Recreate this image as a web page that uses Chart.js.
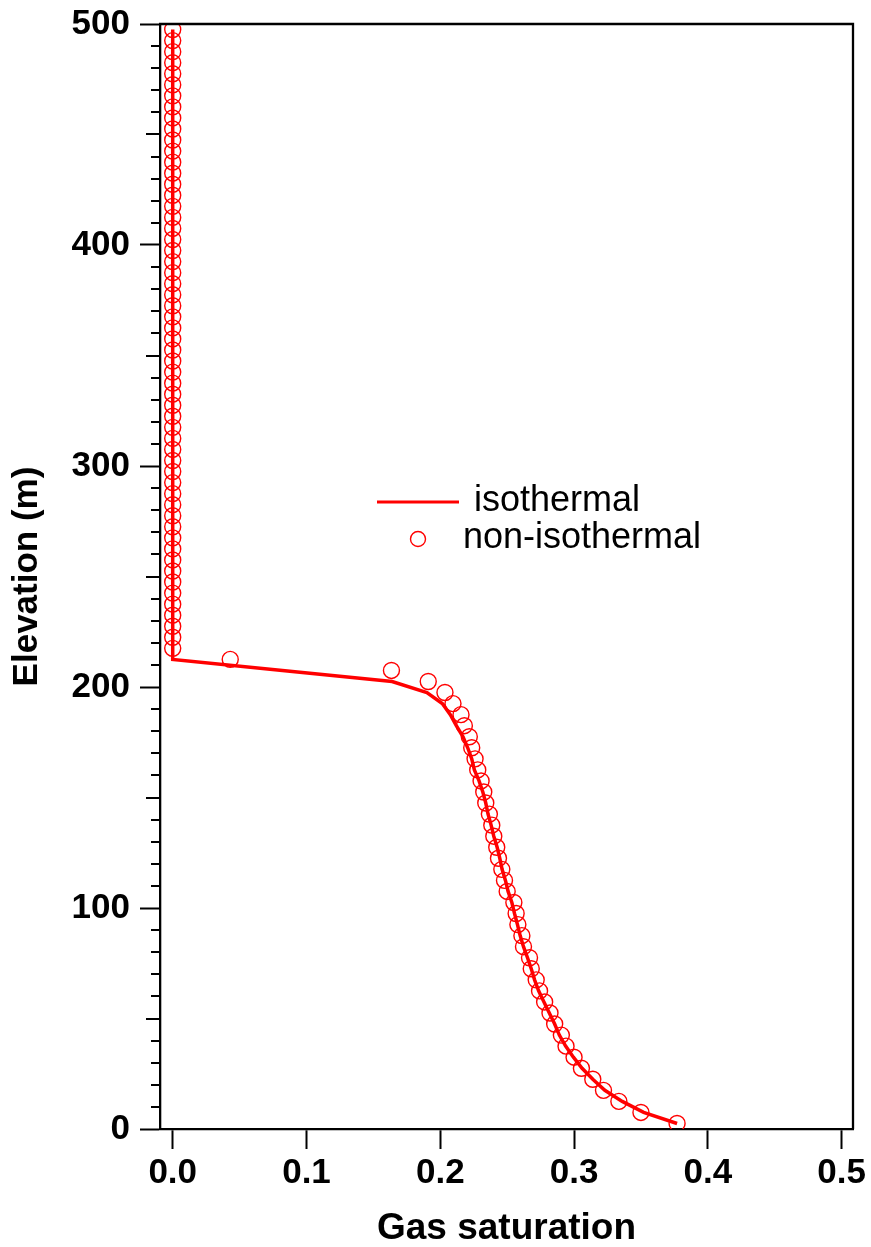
<!DOCTYPE html>
<html>
<head>
<meta charset="utf-8">
<script src="https://cdn.jsdelivr.net/npm/chart.js@4.4.1/dist/chart.umd.min.js"></script>
<style>
    body { margin: 0; background: #fff; }
    canvas { display: block; }
</style>
</head>
<body>
<canvas id="chart" width="871" height="1247"></canvas>
<script>
// cell centre elevations (m), bottom to top
var elevation = [
    2.5, 7.5, 12.5, 17.5, 22.5, 27.5, 32.5, 37.5, 42.5, 47.5,
    52.5, 57.5, 62.5, 67.5, 72.5, 77.5, 82.5, 87.5, 92.5, 97.5,
    102.5, 107.5, 112.5, 117.5, 122.5, 127.5, 132.5, 137.5, 142.5, 147.5,
    152.5, 157.5, 162.5, 167.5, 172.5, 177.5, 182.5, 187.5, 192.5, 197.5,
    202.5, 207.5, 212.5, 217.5, 222.5, 227.5, 232.5, 237.5, 242.5, 247.5,
    252.5, 257.5, 262.5, 267.5, 272.5, 277.5, 282.5, 287.5, 292.5, 297.5,
    302.5, 307.5, 312.5, 317.5, 322.5, 327.5, 332.5, 337.5, 342.5, 347.5,
    352.5, 357.5, 362.5, 367.5, 372.5, 377.5, 382.5, 387.5, 392.5, 397.5,
    402.5, 407.5, 412.5, 417.5, 422.5, 427.5, 432.5, 437.5, 442.5, 447.5,
    452.5, 457.5, 462.5, 467.5, 472.5, 477.5, 482.5, 487.5, 492.5, 497.5
];

var satIsothermal = [
    0.377, 0.352, 0.336, 0.323, 0.314, 0.306, 0.2995, 0.2937, 0.289, 0.2855,
    0.2815, 0.2775, 0.2735, 0.2705, 0.268, 0.2652, 0.2622, 0.2597, 0.2577, 0.2555,
    0.2535, 0.2507, 0.2487, 0.2462, 0.2445, 0.2425, 0.240, 0.238, 0.2357, 0.234,
    0.2318, 0.229, 0.2255, 0.2235, 0.2205, 0.217, 0.212, 0.2075, 0.2015, 0.190,
    0.164, 0.082, 0, 0, 0, 0, 0, 0, 0, 0,
    0, 0, 0, 0, 0, 0, 0, 0, 0, 0,
    0, 0, 0, 0, 0, 0, 0, 0, 0, 0,
    0, 0, 0, 0, 0, 0, 0, 0, 0, 0,
    0, 0, 0, 0, 0, 0, 0, 0, 0, 0,
    0, 0, 0, 0, 0, 0, 0, 0, 0, 0
];

var satNonIsothermal = [
    0.377, 0.350, 0.3335, 0.322, 0.314, 0.3055, 0.300, 0.294, 0.2905, 0.2855,
    0.282, 0.278, 0.2742, 0.2717, 0.268, 0.2667, 0.2622, 0.261, 0.258, 0.2567,
    0.255, 0.250, 0.248, 0.246, 0.2435, 0.2422, 0.240, 0.2385, 0.2367, 0.234,
    0.2325, 0.2305, 0.228, 0.226, 0.2235, 0.2217, 0.218, 0.2155, 0.2095, 0.2035,
    0.191, 0.1635, 0.043, 0, 0, 0, 0, 0, 0, 0,
    0, 0, 0, 0, 0, 0, 0, 0, 0, 0,
    0, 0, 0, 0, 0, 0, 0, 0, 0, 0,
    0, 0, 0, 0, 0, 0, 0, 0, 0, 0,
    0, 0, 0, 0, 0, 0, 0, 0, 0, 0,
    0, 0, 0, 0, 0, 0, 0, 0, 0, 0
];

var satTicks = [0.0, 0.1, 0.2, 0.3, 0.4, 0.5];
var elevLabels = [0, 100, 200, 300, 400, 500];

function toPoints(xs) {
    var pts = [];
    for (var i = 0; i < elevation.length; i++) {
        pts.push({ x: xs[i], y: elevation[i] });
    }
    return pts;
}

// top/right frame + the short and medium ticks on the elevation axis
var framePlugin = {
    id: 'frame',
    afterDraw: function(chart) {
        var ctx = chart.ctx;
        var area = chart.chartArea;
        var yScale = chart.scales.y;
        ctx.save();
        ctx.strokeStyle = '#000';
        ctx.lineWidth = 2.3;
        ctx.beginPath();
        ctx.moveTo(area.left - 1, area.top);
        ctx.lineTo(area.right, area.top);
        ctx.lineTo(area.right, area.bottom);
        ctx.stroke();

        ctx.lineWidth = 2;
        yScale.ticks.forEach(function(t) {
            if (t.value % 100 === 0) return;
            var len = (t.value % 50 === 0) ? 14 : 9;
            var py = Math.round(yScale.getPixelForValue(t.value));
            ctx.beginPath();
            ctx.moveTo(area.left - len, py);
            ctx.lineTo(area.left, py);
            ctx.stroke();
        });
        ctx.restore();
    }
};

// legend drawn inside the plot
var legendPlugin = {
    id: 'innerLegend',
    afterDraw: function(chart) {
        var ctx = chart.ctx;
        var line = chart.data.datasets[0];
        var dots = chart.data.datasets[1];
        ctx.save();
        ctx.font = '36px "Liberation Sans", Arial, sans-serif';
        ctx.fillStyle = '#000';
        ctx.textBaseline = 'alphabetic';

        ctx.strokeStyle = line.borderColor;
        ctx.lineWidth = 3;
        ctx.beginPath();
        ctx.moveTo(377, 502);
        ctx.lineTo(459, 502);
        ctx.stroke();
        ctx.fillText(line.label, 474, 511);

        ctx.strokeStyle = dots.borderColor;
        ctx.lineWidth = dots.borderWidth;
        ctx.beginPath();
        ctx.arc(418, 539, 7.5, 0, Math.PI * 2);
        ctx.stroke();
        ctx.fillText(dots.label, 463, 548);
        ctx.restore();
    }
};

Chart.defaults.color = '#000';
Chart.defaults.font.family = '"Liberation Sans", Arial, sans-serif';

var ctx = document.getElementById('chart').getContext('2d');
var myChart = new Chart(ctx, {
    type: 'scatter',
    data: {
        datasets: [{
            label: 'isothermal',
            data: toPoints(satIsothermal),
            showLine: true,
            borderColor: '#ff0000',
            borderWidth: 3.5,
            pointRadius: 0,
            tension: 0,
            order: 1
        }, {
            label: 'non-isothermal',
            data: toPoints(satNonIsothermal),
            showLine: false,
            pointStyle: 'circle',
            pointRadius: 8,
            borderColor: '#ff0000',
            backgroundColor: 'rgba(0,0,0,0)',
            borderWidth: 1.4,
            order: 2
        }]
    },
    options: {
        responsive: false,
        devicePixelRatio: 1,
        animation: false,
        layout: {
            padding: { top: 24, right: 18, bottom: 0, left: 0 }
        },
        plugins: {
            legend: { display: false },
            tooltip: { enabled: false }
        },
        scales: {
            x: {
                type: 'linear',
                min: -0.0095,
                max: 0.5085,
                afterFit: function(scale) {
                    scale.height = 118;
                    scale.paddingLeft = 0;
                    scale.paddingRight = 0;
                },
                afterBuildTicks: function(scale) {
                    scale.ticks = satTicks.map(function(v) { return { value: v }; });
                },
                ticks: {
                    padding: 3,
                    font: { size: 35, weight: 'bold' },
                    callback: function(v) { return Number(v).toFixed(1); }
                },
                grid: {
                    drawOnChartArea: false,
                    tickLength: 20,
                    tickWidth: 2,
                    tickColor: '#000'
                },
                border: { color: '#000', width: 2.3 },
                title: {
                    display: true,
                    text: 'Gas saturation',
                    font: { size: 37, weight: 'bold', lineHeight: 1 },
                    padding: 0
                }
            },
            y: {
                type: 'linear',
                min: 0,
                max: 500,
                afterFit: function(scale) {
                    scale.width = 160;
                    scale.paddingTop = 0;
                    scale.paddingBottom = 0;
                },
                ticks: {
                    stepSize: 10,
                    autoSkip: false,
                    padding: 10,
                    font: { size: 35, weight: 'bold' },
                    callback: function(v) {
                        return elevLabels.indexOf(v) !== -1 ? String(v) : '';
                    }
                },
                grid: {
                    drawOnChartArea: false,
                    tickLength: 20,
                    tickWidth: 2,
                    tickColor: function(c) {
                        return (c.tick && c.tick.value % 100 === 0) ? '#000' : 'rgba(0,0,0,0)';
                    }
                },
                border: { color: '#000', width: 2.3 },
                title: {
                    display: true,
                    text: 'Elevation (m)',
                    font: { size: 35, weight: 'bold', lineHeight: 1 },
                    padding: { top: 10, bottom: 0 }
                }
            }
        }
    },
    plugins: [framePlugin, legendPlugin]
});
</script>
</body>
</html>
